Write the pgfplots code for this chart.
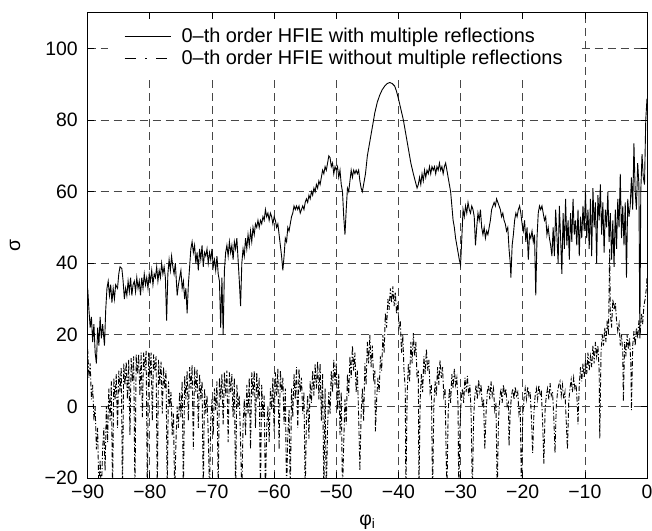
\documentclass[border=0pt]{standalone}
\usepackage{fontspec}
\setmainfont{Liberation Sans}
\usepackage{pgfplots}
\pgfplotsset{compat=1.18}

\newcommand{\lblfont}{\fontsize{19.5}{22}\selectfont}
\newcommand{\legfont}{\fontsize{20}{23}\selectfont}

\begin{document}
\begin{tikzpicture}
\begin{axis}[
  at={(0,0)}, anchor=south west,
  scale only axis, width=559.3bp, height=465.3bp,
  xmin=-90, xmax=0, ymin=-20, ymax=110,
  xtick={-90,-80,-70,-60,-50,-40,-30,-20,-10,0},
  xticklabels={−90,−80,−70,−60,−50,−40,−30,−20,−10,0},
  ytick={-20,0,20,40,60,80,100},
  yticklabels={−20,0,20,40,60,80,100},
  tick pos=both, tick align=inside, major tick length=6bp,
  tick style={black, line width=0.7bp},
  axis line style={black, line width=0.9bp},
  grid=major,
  major grid style={black!72, line width=0.7bp, dash pattern=on 8bp off 5bp},
  ticklabel style={font=\lblfont},
  xticklabel style={yshift=-3.5bp},
  yticklabel style={xshift=-6.5bp},
  xlabel={φ\textsubscript{i}},
  ylabel={σ},
  xlabel style={font=\lblfont, at={(axis description cs:0.5,-0.0946)}, anchor=center},
  ylabel style={font=\lblfont, at={(axis description cs:-0.130,0.5)}, anchor=center},
  legend image code/.code={\draw[#1] (0bp,0bp) -- (46bp,0bp);},
  legend cell align=left,
  legend style={at={(axis description cs:0.0363,0.9875)}, anchor=north west,
    draw=none, fill=white, font=\legfont,
    inner xsep=16bp, inner ysep=8bp,
    nodes={inner sep=1.5bp}, row sep=3bp, column sep=9bp},
]

% legend samples
\addlegendimage{black, line width=0.9bp}
\addlegendentry{0–th order HFIE with multiple reflections}
\addlegendimage{black, line width=0.9bp, dash pattern=on 11bp off 9.5bp on 1.5bp off 9.5bp}
\addlegendentry{0–th order HFIE without multiple reflections}

% without multiple reflections (dash-dot)
\addplot[forget plot, black, line width=0.9bp, dash pattern=on 5bp off 2bp on 1.2bp off 2bp] coordinates {
(-90.0,16) (-89.8,8) (-89.6,12) (-89.4,2) (-89.2,6) (-89.0,-4) (-88.8,0) (-88.6,-12) (-88.4,-6) (-88.2,-25)
(-88.0,-15) (-87.8,-25) (-87.6,-12) (-87.4,-6) (-87.2,-18) (-87.0,0) (-86.8,-10) (-86.6,5) (-86.4,-4) (-86.2,7)
(-86.0,-25) (-85.8,8) (-85.6,2) (-85.4,9) (-85.2,-6) (-85.0,10) (-84.8,4) (-84.6,11) (-84.4,-25) (-84.2,12)
(-84.0,6) (-83.8,12.5) (-83.6,2) (-83.4,13) (-83.2,-8) (-83.0,13.5) (-82.8,7) (-82.6,14) (-82.4,-25) (-82.2,14.5)
(-82.0,9) (-81.8,14.5) (-81.6,3) (-81.4,15) (-81.2,-3) (-81.0,15) (-80.8,10) (-80.6,15.5) (-80.4,-25) (-80.2,15)
(-80.0,8) (-79.8,15) (-79.6,-4) (-79.4,14.5) (-79.2,10) (-79.0,14) (-78.8,-25) (-78.6,13) (-78.4,6) (-78.2,12.5)
(-78.0,-2) (-77.8,11) (-77.6,5) (-77.4,10) (-77.2,-25) (-77.0,7) (-76.8,0) (-76.6,4) (-76.4,-8) (-76.2,-2)
(-76.0,-25)
(-75.8,-10) (-75.6,0) (-75.4,-6) (-75.2,4) (-75.0,-3) (-74.8,7) (-74.6,-25) (-74.4,8.5) (-74.2,2) (-74.0,10)
(-73.8,-4) (-73.6,11) (-73.4,5) (-73.2,11.5) (-73.0,-12) (-72.8,11) (-72.6,4) (-72.4,10.5) (-72.2,-6) (-72.0,9)
(-71.8,2) (-71.6,7) (-71.4,-25) (-71.2,5) (-71.0,-2) (-70.8,3) (-70.6,-8) (-70.4,-25)
(-70.2,-4) (-70.0,2) (-69.8,-8) (-69.6,5) (-69.4,-1) (-69.2,7) (-69.0,-25) (-68.8,8) (-68.6,2) (-68.4,9)
(-68.2,-5) (-68.0,9.5) (-67.8,3) (-67.6,10) (-67.4,-10) (-67.2,9.5) (-67.0,4) (-66.8,9) (-66.6,-3) (-66.4,8)
(-66.2,-25) (-66.0,6) (-65.8,0) (-65.6,3) (-65.4,-10) (-65.2,-25)
(-65.0,-5) (-64.8,2) (-64.6,-8) (-64.4,6) (-64.2,-2) (-64.0,8) (-63.8,-12) (-63.6,9.5) (-63.4,3) (-63.2,10)
(-63.0,-6) (-62.8,9.5) (-62.6,2) (-62.4,8) (-62.2,-25) (-62.0,6) (-61.8,-3) (-61.6,3) (-61.4,-25)
(-61.2,-6) (-61.0,0) (-60.8,-10) (-60.6,5) (-60.4,-1) (-60.2,8) (-60.0,-7) (-59.8,9.5) (-59.6,3) (-59.4,10.5)
(-59.2,-12) (-59.0,10) (-58.8,4) (-58.6,8) (-58.4,-5) (-58.2,5) (-58.0,-25)
(-57.8,-8) (-57.6,-1) (-57.4,-25) (-57.2,5) (-57.0,-3) (-56.8,9) (-56.6,2) (-56.4,11) (-56.2,-6) (-56.0,10.5)
(-55.8,4) (-55.6,8) (-55.4,-2) (-55.2,4) (-55.0,-25)
(-54.8,-3) (-54.6,3) (-54.4,-9) (-54.2,7) (-54.0,1) (-53.8,10) (-53.6,3) (-53.4,12) (-53.2,5) (-53.0,12.5)
(-52.8,2) (-52.6,12) (-52.4,-4) (-52.2,9) (-52.0,-25) (-51.8,5) (-51.6,-25)
(-51.4,-6) (-51.2,4) (-51.0,-2) (-50.8,10) (-50.6,4) (-50.4,13) (-50.2,6) (-50.0,12) (-49.8,-1) (-49.6,9)
(-49.4,-8) (-49.2,4) (-49.0,-25)
(-48.8,-10) (-48.6,2) (-48.4,-5) (-48.2,9) (-48.0,3) (-47.8,14) (-47.6,8) (-47.4,17) (-47.2,10) (-47.0,15)
(-46.8,4) (-46.6,10) (-46.4,-3) (-46.2,-18)
(-46.0,-2) (-45.8,5) (-45.6,-4) (-45.4,12) (-45.2,6) (-45.0,18) (-44.8,12) (-44.6,20) (-44.4,11) (-44.2,17)
(-44.0,8) (-43.8,10) (-43.7,-7)
(-43.5,2) (-43.3,8) (-43.1,4) (-42.9,14) (-42.7,10) (-42.5,20) (-42.3,15) (-42.1,26) (-41.9,22) (-41.7,30)
(-41.5,27) (-41.3,33) (-41.1,29) (-40.9,33.5) (-40.7,28) (-40.5,32) (-40.3,26) (-40.1,29) (-39.9,22) (-39.7,24)
(-39.5,15) (-39.3,20) (-39.1,10) (-38.9,5) (-38.8,-25)
(-38.6,3) (-38.4,12) (-38.2,7) (-38.0,18) (-37.8,12) (-37.6,20.5) (-37.4,14) (-37.2,18) (-37.0,8) (-36.8,10)
(-36.7,-25)
(-36.5,2) (-36.3,9) (-36.1,4) (-35.9,14) (-35.7,9) (-35.5,16) (-35.3,10) (-35.1,13) (-34.9,4) (-34.7,6)
(-34.5,-25)
(-34.3,0) (-34.1,7) (-33.9,3) (-33.7,11) (-33.5,6) (-33.3,13) (-33.1,8) (-32.9,11) (-32.7,3) (-32.5,5)
(-32.2,-25)
(-32.0,-2) (-31.8,5) (-31.6,1) (-31.4,9) (-31.2,5) (-31.0,10.5) (-30.8,6) (-30.6,8) (-30.4,0) (-30.3,-25)
(-30.1,-6) (-29.9,2) (-29.7,5) (-29.5,1) (-29.3,8) (-29.1,4) (-28.9,8.5) (-28.7,3) (-28.5,6) (-28.3,-2)
(-28.1,-25)
(-27.9,-3) (-27.7,3) (-27.5,6) (-27.3,2) (-27.1,7.5) (-26.9,4) (-26.7,6) (-26.5,0) (-26.3,2) (-26.1,-12)
(-25.9,-2) (-25.7,4) (-25.5,6) (-25.3,2) (-25.1,7) (-24.9,3) (-24.7,5) (-24.5,-1) (-24.3,1) (-24.1,-25)
(-23.9,-4) (-23.7,2) (-23.5,5) (-23.3,1) (-23.1,6) (-22.9,3) (-22.7,5) (-22.5,0) (-22.3,1) (-22.2,-11)
(-22.0,-1) (-21.8,3) (-21.6,5) (-21.4,2) (-21.2,5.5) (-21.0,3) (-20.8,4) (-20.6,-2) (-20.4,0) (-20.2,-25)
(-20.0,-3) (-19.8,2) (-19.6,5) (-19.4,2) (-19.2,5.5) (-19.0,3) (-18.8,4) (-18.6,-3) (-18.4,-13)
(-18.2,-2) (-18.0,3) (-17.8,5) (-17.6,2) (-17.4,6) (-17.2,3) (-17.0,4) (-16.8,-4) (-16.6,-16)
(-16.4,-1) (-16.2,3) (-16.0,5) (-15.8,2) (-15.6,6.5) (-15.4,3) (-15.2,4) (-15.0,-3) (-14.8,-13)
(-14.6,0) (-14.4,4) (-14.2,6) (-14.0,7) (-13.8,3) (-13.6,6) (-13.4,2) (-13.2,4) (-13.0,-4) (-12.8,-12)
(-12.6,1) (-12.4,5) (-12.2,7.5) (-12.0,4) (-11.8,8) (-11.6,5) (-11.4,6) (-11.2,0) (-11.1,-5)
(-10.9,6) (-10.7,11) (-10.5,7) (-10.3,12) (-10.1,8) (-9.9,13) (-9.7,9) (-9.5,15) (-9.3,10) (-9.1,14)
(-8.9,11) (-8.7,17) (-8.5,12) (-8.3,18) (-8.1,14) (-7.9,17) (-7.7,10) (-7.6,-9) (-7.4,15) (-7.2,20)
(-7.0,17) (-6.8,22) (-6.6,18) (-6.4,24) (-6.2,20) (-6.0,44) (-5.9,26) (-5.7,22) (-5.5,30) (-5.3,27)
(-5.1,29) (-4.9,24) (-4.7,21) (-4.5,23) (-4.3,17) (-4.1,20) (-3.9,15) (-3.8,1.4) (-3.6,18) (-3.4,14)
(-3.2,20) (-3.0,16) (-2.8,19) (-2.6,12) (-2.5,-1) (-2.3,17) (-2.1,21) (-1.9,17) (-1.7,22) (-1.5,19)
(-1.3,24) (-1.1,20) (-0.9,26) (-0.7,23) (-0.5,28) (-0.3,30) (-0.1,33) (0.0,36)
};

% with multiple reflections (solid)
\addplot[forget plot, black, line width=0.9bp] coordinates {
(-90.0,33) (-89.8,27) (-89.6,22) (-89.4,25) (-89.2,18) (-89.0,23) (-88.8,15) (-88.6,12) (-88.4,22) (-88.2,17)
(-88.0,25) (-87.8,19) (-87.6,23) (-87.3,17) (-87.1,27) (-86.9,33) (-86.7,35) (-86.5,31) (-86.3,34) (-86.1,29)
(-85.9,33) (-85.7,30) (-85.5,34) (-85.2,33) (-85.0,37) (-84.8,39) (-84.5,38.5) (-84.3,35) (-84.1,30) (-83.9,33)
(-83.7,31) (-83.5,35) (-83.3,32) (-83.1,36) (-82.9,31) (-82.7,34) (-82.5,35) (-82.3,32) (-82.1,36) (-81.9,33)
(-81.7,35) (-81.5,31) (-81.3,36) (-81.1,33) (-80.9,37) (-80.7,34) (-80.5,36) (-80.3,33) (-80.1,37) (-79.9,35)
(-79.7,38) (-79.5,34) (-79.3,37) (-79.1,36) (-78.9,39) (-78.7,35) (-78.5,38) (-78.3,36) (-78.1,40) (-77.9,37)
(-77.7,39) (-77.5,36) (-77.3,24) (-77.1,37) (-76.9,41) (-76.7,38) (-76.5,42) (-76.3,39) (-76.1,37) (-75.9,40)
(-75.6,31) (-75.4,34) (-75.2,36) (-75.0,38) (-74.8,33) (-74.6,35) (-74.4,30) (-74.2,33) (-74.0,26) (-73.8,34)
(-73.6,39) (-73.4,44) (-73.2,46) (-73.0,43) (-72.8,45) (-72.6,40) (-72.4,43) (-72.2,38) (-72.0,44) (-71.8,41)
(-71.6,45) (-71.4,39) (-71.2,43) (-71.0,42) (-70.8,44) (-70.6,40) (-70.4,43) (-70.2,41) (-70.0,44) (-69.8,39)
(-69.6,41) (-69.4,38) (-69.2,42) (-69.0,37) (-68.8,35) (-68.6,22) (-68.4,36) (-68.2,20) (-68.0,38) (-67.8,43)
(-67.6,45) (-67.4,42) (-67.2,46) (-67.0,43) (-66.8,45) (-66.6,41) (-66.4,46) (-66.2,44) (-66.0,47) (-65.8,41)
(-65.6,35) (-65.4,28) (-65.2,40) (-65.0,44) (-64.8,42) (-64.6,47) (-64.4,44) (-64.2,48) (-64.0,45) (-63.8,49)
(-63.6,46) (-63.4,50) (-63.2,48) (-63.0,51) (-62.8,50) (-62.6,52) (-62.4,50) (-62.2,52) (-62.0,51) (-61.8,53)
(-61.6,52) (-61.4,55) (-61.2,53) (-61.0,54) (-60.8,52) (-60.6,54) (-60.4,53) (-60.2,51) (-60.0,53) (-59.8,52)
(-59.6,50) (-59.4,51) (-59.2,48) (-59.0,45) (-58.8,42) (-58.6,38) (-58.4,42) (-58.2,47) (-58.0,46) (-57.8,50)
(-57.6,49) (-57.4,51) (-57.2,53) (-57.0,54) (-56.8,56) (-56.6,55) (-56.4,56) (-56.2,55) (-56.0,56) (-55.8,54)
(-55.6,55) (-55.4,56) (-55.2,55) (-55.0,57) (-54.8,58) (-54.6,57) (-54.4,59) (-54.2,58) (-54.0,60) (-53.8,59)
(-53.6,61) (-53.4,60) (-53.2,62) (-53.0,61) (-52.8,63) (-52.6,62) (-52.4,64) (-52.2,66) (-52.0,65) (-51.8,67)
(-51.6,66) (-51.4,68) (-51.2,70) (-51.0,69.5) (-50.8,67) (-50.6,68) (-50.4,65) (-50.2,67) (-50.0,66) (-49.8,67)
(-49.6,64) (-49.4,66) (-49.2,62) (-49.0,60) (-48.8,53) (-48.6,48) (-48.4,55) (-48.2,61) (-48.0,60) (-47.8,63)
(-47.6,66) (-47.4,64) (-47.2,66) (-47.0,65) (-46.8,66) (-46.6,65) (-46.4,66) (-46.2,63) (-46.0,61) (-45.8,60)
(-45.6,62) (-45.3,65) (-45.0,70) (-44.6,74) (-44.2,78) (-43.8,82) (-43.4,85) (-43.0,87) (-42.6,88.5) (-42.2,89.5)
(-41.8,90.2) (-41.4,90.5) (-41.0,90.2) (-40.6,89.5) (-40.3,88) (-40.0,86) (-39.6,83) (-39.2,80) (-38.8,76) (-38.4,72)
(-38.0,68) (-37.6,65) (-37.3,63) (-37.0,61) (-36.8,62) (-36.6,64) (-36.4,62) (-36.2,65) (-36.0,63) (-35.8,66)
(-35.6,64) (-35.4,66) (-35.2,65) (-35.0,67) (-34.8,65) (-34.6,67) (-34.4,66) (-34.2,67) (-34.0,65) (-33.8,67)
(-33.6,66) (-33.4,68) (-33.2,66) (-33.0,67) (-32.8,65) (-32.6,67) (-32.4,68) (-32.2,66) (-32.0,64) (-31.8,62)
(-31.6,60) (-31.4,56) (-31.2,52) (-31.0,50) (-30.8,47) (-30.6,45) (-30.4,43) (-30.2,41) (-30.0,39.5) (-29.8,47)
(-29.6,55) (-29.4,53) (-29.2,56) (-29.0,54) (-28.8,57) (-28.6,55) (-28.4,54) (-28.2,56) (-28.0,55) (-27.8,53)
(-27.6,45) (-27.4,50) (-27.2,54) (-27.0,52) (-26.8,55) (-26.6,50) (-26.4,48) (-26.2,50) (-26.0,47) (-25.8,49)
(-25.6,48) (-25.4,50) (-25.2,52) (-25.0,55) (-24.8,56) (-24.6,57) (-24.4,56) (-24.2,58) (-24.0,57) (-23.8,56)
(-23.6,55) (-23.4,53) (-23.2,54) (-23.0,52) (-22.8,51) (-22.6,49) (-22.4,50) (-22.2,44) (-22.0,40) (-21.9,36)
(-21.7,45) (-21.5,48) (-21.3,52) (-21.1,54) (-20.9,53) (-20.7,55) (-20.5,56) (-20.3,54) (-20.1,51) (-19.9,49)
(-19.7,52) (-19.5,46) (-19.3,50) (-19.1,41) (-18.9,48) (-18.7,47) (-18.5,49) (-18.3,46) (-18.1,48) (-17.9,31)
(-17.7,47) (-17.5,54) (-17.3,56) (-17.1,55) (-16.9,56) (-16.7,54) (-16.5,52) (-16.3,53) (-16.1,48) (-15.9,50)
(-15.7,47) (-15.5,45) (-15.3,42) (-15.1,50) (-14.9,42) (-14.7,55) (-14.5,48) (-14.3,40) (-14.1,56) (-13.9,47)
(-13.7,37) (-13.5,54) (-13.3,44) (-13.1,58) (-12.9,45) (-12.7,52) (-12.5,41) (-12.3,54) (-12.1,46) (-11.9,58)
(-11.7,48) (-11.5,52) (-11.3,45) (-11.1,55) (-10.9,42) (-10.7,53) (-10.5,47) (-10.3,56) (-10.1,49) (-9.9,60)
(-9.7,47) (-9.5,55) (-9.3,44) (-9.1,58) (-8.9,42) (-8.7,61) (-8.5,50) (-8.3,57) (-8.1,40) (-7.9,59)
(-7.7,52) (-7.5,62) (-7.3,48) (-7.1,57) (-6.9,43) (-6.7,55) (-6.5,50) (-6.3,60) (-6.1,46) (-5.9,54)
(-5.7,41) (-5.5,52) (-5.3,39) (-5.1,55) (-4.9,44) (-4.7,58) (-4.5,50) (-4.3,65) (-4.1,47) (-3.9,56)
(-3.7,45) (-3.5,57) (-3.3,36) (-3.1,58) (-2.9,53) (-2.7,56) (-2.5,64) (-2.3,55) (-2.1,73.5) (-1.9,60)
(-1.7,55) (-1.5,68) (-1.3,62) (-1.15,19) (-1.0,60) (-0.8,70.5) (-0.6,64) (-0.4,62) (-0.2,80) (0.0,86)
};

\end{axis}
\pgfresetboundingbox
\path (-87.7bp,-53bp) rectangle (564.3bp,478bp);
\end{tikzpicture}
\end{document}
